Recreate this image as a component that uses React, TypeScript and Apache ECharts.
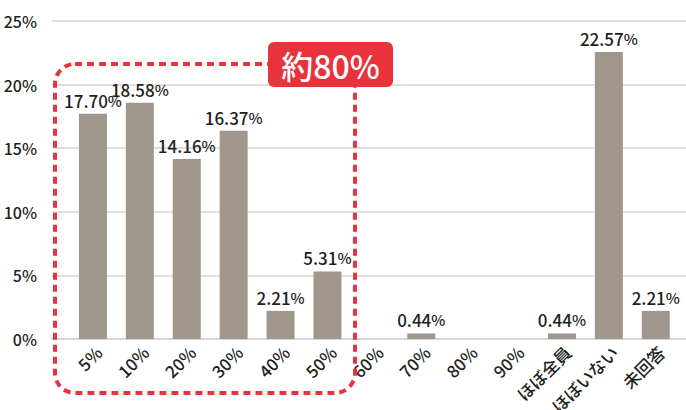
import React, { useEffect, useRef } from "react";
import * as echarts from "echarts";

const categories = ["5%", "10%", "20%", "30%", "40%", "50%", "60%", "70%", "80%", "90%", "ほぼ全員", "ほぼいない", "未回答"];
const values = [17.7, 18.58, 14.16, 16.37, 2.21, 5.31, 0, 0.44, 0, 0, 0.44, 22.57, 2.21];
const yTicks = { min: 0, max: 25, interval: 5 };
const calloutText = "約80%";

const FONT = "'Noto Sans CJK JP', 'Noto Sans', sans-serif";
const TEXT = "#231f20";
const BAR = "#a1968c";
const RED = "#e8323c";

export default function App() {
  const ref = useRef<HTMLDivElement>(null);
  useEffect(() => {
    if (!ref.current) return;
    const chart = echarts.init(ref.current, undefined, { renderer: "svg" });
    const gridBase = { top: 21, bottom: 71, outerBoundsMode: "none", containLabel: false };
    chart.setOption({
      animation: false,
      textStyle: { fontFamily: FONT },
      grid: [
        { ...gridBase, left: 52, right: 0 },
        { ...gridBase, left: 69.5, right: 6.8 },
        { ...gridBase, left: 75, right: 1.3 },
      ],
      xAxis: [
        {
          type: "value",
          gridIndex: 0,
          min: 0,
          max: 1,
          axisLabel: { show: false },
          axisTick: { show: false },
          splitLine: { show: false },
          axisLine: { show: true, lineStyle: { color: "#d4d4d4", width: 1.5 } },
        },
        {
          type: "category",
          gridIndex: 1,
          data: categories,
          axisLine: { show: false },
          axisTick: { show: false },
          axisLabel: { show: false },
        },
        {
          type: "category",
          gridIndex: 2,
          data: categories,
          axisLine: { show: false },
          axisTick: { show: false },
          axisLabel: {
            rotate: 45,
            interval: 0,
            margin: 10,
            fontSize: 17,
            fontWeight: 500,
            color: TEXT,
            fontFamily: FONT,
          },
        },
      ],
      yAxis: [
        {
          type: "value",
          gridIndex: 0,
          min: yTicks.min,
          max: yTicks.max,
          interval: yTicks.interval,
          axisLine: { show: false },
          axisTick: { show: false },
          axisLabel: { formatter: "{value}%", fontSize: 16, fontWeight: 500, color: TEXT, margin: 15, fontFamily: FONT },
          splitLine: { lineStyle: { color: "#d4d4d4", width: 1.5 } },
        },
        {
          type: "value",
          gridIndex: 1,
          min: yTicks.min,
          max: yTicks.max,
          interval: yTicks.interval,
          show: false,
        },
        {
          type: "value",
          gridIndex: 2,
          min: yTicks.min,
          max: yTicks.max,
          interval: yTicks.interval,
          show: false,
        },
      ],
      series: [
        {
          type: "bar",
          xAxisIndex: 1,
          yAxisIndex: 1,
          data: values,
          barWidth: 28,
          itemStyle: { color: BAR },
          label: {
            show: true,
            position: "top",
            distance: 5,
            formatter: (p: any) => (p.value ? `{n|${p.value.toFixed(2)}}{p|%}` : ""),
            rich: {
              n: { fontSize: 17, fontWeight: 500, color: TEXT, fontFamily: FONT },
              p: { fontSize: 15, fontWeight: 500, color: TEXT, fontFamily: FONT },
            },
          },
        },
      ],
      graphic: [
        {
          type: "rect",
          shape: { x: 55, y: 64, width: 300, height: 329, r: 20 },
          style: { fill: "none", stroke: RED, lineWidth: 4, lineDash: [7, 5] },
          z: 10,
        },
        {
          type: "rect",
          shape: { x: 268, y: 42, width: 125, height: 45, r: 6 },
          style: { fill: RED },
          z: 11,
        },
        {
          type: "text",
          x: 330.5,
          y: 65,
          style: {
            text: calloutText,
            fill: "#ffffff",
            fontSize: 32,
            fontWeight: 500,
            fontFamily: FONT,
            align: "center",
            verticalAlign: "middle",
          },
          z: 12,
        },
      ],
    });
    return () => chart.dispose();
  }, []);
  return <div ref={ref} style={{ width: 686, height: 410, position: "absolute", left: 0, top: 0 }} />;
}
